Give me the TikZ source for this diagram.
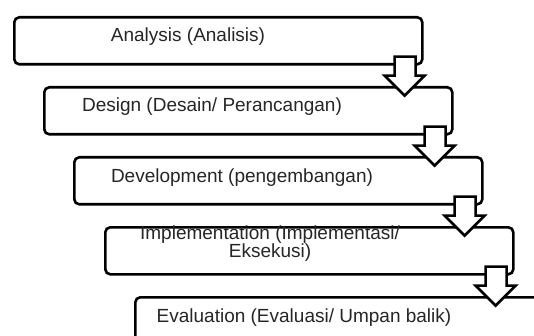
\documentclass[tikz,border=0pt]{standalone}
\usepackage{fontspec}
\setmainfont{Liberation Sans}
\usetikzlibrary{calc}
\begin{document}
\begin{tikzpicture}[x=1pt,y=-1pt,
  stagebox/.style={draw=black, line width=2.6pt, rounded corners=5pt, fill=white,
    minimum width=408pt, minimum height=47pt, inner sep=0pt, anchor=north west},
  stagetext/.style={font=\fontsize{19}{18}\selectfont, inner sep=0pt, align=center, text=black!85},
  blockarrow/.style={draw=black, fill=white, line width=2.6pt, line join=miter}]
\clip (0,0) rectangle (534,336);
\fill[white] (0,0) rectangle (534,336);
% boxes
\node[stagebox] (b1) at (13,16) {};
\node[stagebox] (b2) at (43,86) {};
\node[stagebox] (b3) at (73,156) {};
\node[stagebox] (b4) at (104,226) {};
\node[stagebox] (b5) at (134,296) {};
% texts
\node[stagetext] (t1) at (188,37) {Analysis (Analisis)};
\node[stagetext] (t2) at (212,107) {Design (Desain/ Perancangan)};
\node[stagetext] (t3) at (242,178) {Development (pengembangan)};
\node[stagetext] (t4) at (270,244) {Implementation (Implementasi/\\Eksekusi)};
\node[stagetext] (t5) at (304,318) {Evaluation (Evaluasi/ Umpan balik)};
% hollow block arrows
\foreach \a in {b1,b2,b3,b4}{
  \draw[blockarrow]
    ($(\a.south east)+(-29,-9)$) -- ($(\a.south east)+(-29,10)$)
    -- ($(\a.south east)+(-39,10)$) -- ($(\a.south east)+(-19,30)$)
    -- ($(\a.south east)+(1,10)$) -- ($(\a.south east)+(-8,10)$)
    -- ($(\a.south east)+(-8,-9)$) -- cycle;
}
\end{tikzpicture}
\end{document}
